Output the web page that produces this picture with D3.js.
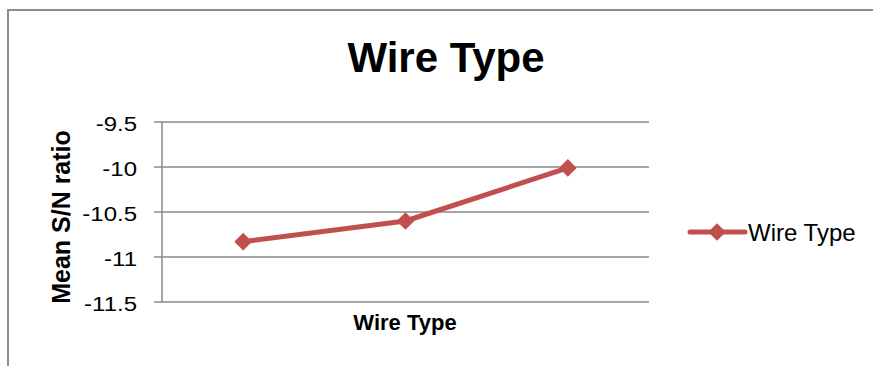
<!DOCTYPE html>
<html><head><meta charset="utf-8">
<script src="https://cdn.jsdelivr.net/npm/d3@7"></script>
<style>body{margin:0;background:#fff;}svg{display:block;font-family:"Liberation Sans",Arial,sans-serif;}</style>
</head><body>
<svg id="c" width="873" height="366"></svg>
<script>
const categories = ["1", "2", "3"];
const values = [-10.83, -10.6, -10.01];
const yTicks = [-9.5, -10, -10.5, -11, -11.5];
const tickLabels = ["-9.5", "-10", "-10.5", "-11", "-11.5"];
const seriesName = "Wire Type";
const chartTitle = "Wire Type";
const xTitle = "Wire Type";
const yTitle = "Mean S/N ratio";

const svg = d3.select("#c");
const color = "#C0504D", grid = "#888888";
const L = 162, R = 649, T = 122, B = 302;

// outer border (cropped)
svg.append("path").attr("d", "M8,380 L8,10 L890,10").attr("fill", "none")
  .attr("stroke", "#8c8c8c").attr("stroke-width", 2);

const x = d3.scaleBand().domain(categories).range([L, R]);
const y = d3.scaleLinear().domain([-11.5, -9.5]).range([B, T]);

// gridlines
svg.append("g").selectAll("line").data(yTicks).join("line")
  .attr("x1", L - 8).attr("x2", R).attr("y1", d => y(d)).attr("y2", d => y(d))
  .attr("stroke", grid).attr("stroke-width", 1.5);
// y axis line
svg.append("line").attr("x1", L).attr("x2", L).attr("y1", T).attr("y2", B)
  .attr("stroke", grid).attr("stroke-width", 1.5);
// tick labels
svg.append("g").selectAll("text").data(yTicks).join("text")
  .attr("transform", d => `translate(137,${y(d) + 1}) scale(1,0.88)`)
  .attr("dy", "0.36em").attr("text-anchor", "end")
  .attr("font-size", 24).attr("fill", "#000").text((d, i) => tickLabels[i]);

// line
const line = d3.line().x((d, i) => x(categories[i]) + x.bandwidth() / 2).y(d => y(d));
svg.append("path").datum(values).attr("d", line).attr("fill", "none")
  .attr("stroke", color).attr("stroke-width", 5).attr("stroke-linejoin", "round");
const diamond = d3.symbol().type(d3.symbolDiamond2).size(200);
svg.append("g").selectAll("path").data(values).join("path")
  .attr("transform", (d, i) => `translate(${x(categories[i]) + x.bandwidth() / 2},${y(d)})`)
  .attr("d", diamond).attr("fill", color);

// titles
svg.append("text").attr("x", 446).attr("y", 72).attr("text-anchor", "middle")
  .attr("font-size", 42).attr("font-weight", "bold").text(chartTitle);
svg.append("text").attr("x", 405).attr("y", 330).attr("text-anchor", "middle")
  .attr("font-size", 22).attr("font-weight", "bold").text(xTitle);
svg.append("text").attr("transform", "translate(70,217) rotate(-90)").attr("text-anchor", "middle")
  .attr("font-size", 25).attr("font-weight", "bold").text(yTitle);

// legend
const lg = svg.append("g");
lg.append("line").attr("x1", 690).attr("x2", 745).attr("y1", 232).attr("y2", 232)
  .attr("stroke", color).attr("stroke-width", 5).attr("stroke-linecap", "round");
lg.append("path").attr("transform", "translate(717,232)").attr("d", diamond).attr("fill", color);
lg.append("text").attr("x", 748).attr("y", 232).attr("dy", "0.36em")
  .attr("font-size", 24).text(seriesName);
</script>
</body></html>
